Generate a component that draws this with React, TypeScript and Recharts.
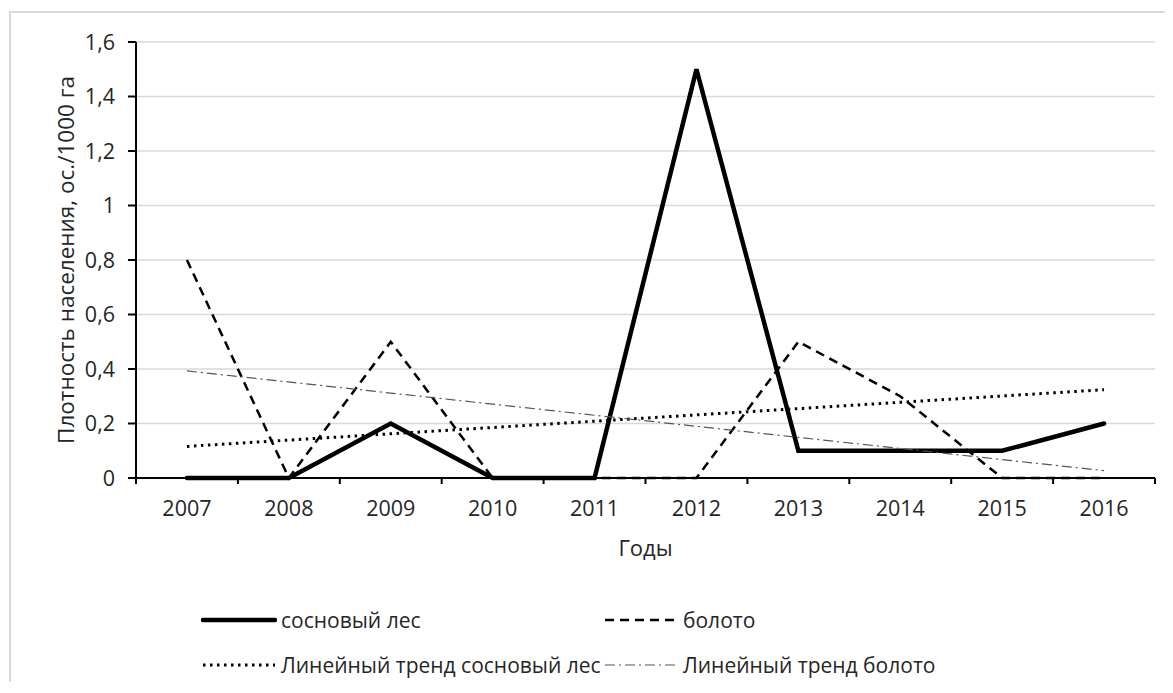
import React from 'react'
import { LineChart, Line, XAxis, YAxis, CartesianGrid, Label } from 'recharts'

const years = ['2007', '2008', '2009', '2010', '2011', '2012', '2013', '2014', '2015', '2016']
const pineForest = [0, 0, 0.2, 0, 0, 1.5, 0.1, 0.1, 0.1, 0.2]
const swamp = [0.8, 0, 0.5, 0, 0, 0, 0.5, 0.3, 0, 0]
// linear trend ends, read at 2007 and 2016
const pineTrend = [0.116, 0.324]
const swampTrend = [0.393, 0.027]
const yTicks = [0, 0.2, 0.4, 0.6, 0.8, 1, 1.2, 1.4, 1.6]

const data = years.map((year, i) => ({
  year,
  pine: pineForest[i],
  swamp: swamp[i],
  pineTrend: i === 0 ? pineTrend[0] : i === years.length - 1 ? pineTrend[1] : null,
  swampTrend: i === 0 ? swampTrend[0] : i === years.length - 1 ? swampTrend[1] : null,
}))

const FONT = '"Open Sans", sans-serif'
const TEXT = '#262626'
const CHART_W = 1160
const CHART_H = 560
const Y_AXIS_W = 125
const MARGIN = { top: 29, right: 16, left: 0, bottom: 0 }
const BAND = (CHART_W - Y_AXIS_W - MARGIN.left - MARGIN.right) / years.length

const STYLES = {
  pine: { stroke: '#000', strokeWidth: 4.5, dash: undefined as string | undefined },
  swamp: { stroke: '#000', strokeWidth: 2.5, dash: '9 6' },
  pineTrend: { stroke: '#000', strokeWidth: 3, dash: '2.5 4.5' },
  swampTrend: { stroke: '#555', strokeWidth: 1.2, dash: '10 4 2 4' },
}

function YearTick(props: any) {
  const { x, y, payload, index } = props
  const last = index === years.length - 1
  return (
    <g>
      <line x1={x - BAND / 2} x2={x - BAND / 2} y1={y} y2={y + 6} stroke="#000" strokeWidth={2} />
      {last && <line x1={x + BAND / 2} x2={x + BAND / 2} y1={y} y2={y + 6} stroke="#000" strokeWidth={2} />}
      <text x={x} y={y + 23} dy="0.71em" textAnchor="middle" fill={TEXT} fontSize={21.5} fontFamily={FONT}>
        {payload.value}
      </text>
    </g>
  )
}

function YTitle(props: any) {
  const { viewBox } = props
  const cx = viewBox.x + 54
  const cy = viewBox.y + viewBox.height / 2
  return (
    <text
      x={cx}
      y={cy}
      transform={`rotate(-90, ${cx}, ${cy})`}
      textAnchor="middle"
      dominantBaseline="central"
      fill={TEXT}
      fontSize={22.5}
      fontFamily={FONT}
    >
      Плотность населения, ос./1000 га
    </text>
  )
}

function LegendItem({ left, top, style, label }: any) {
  return (
    <div style={{ position: 'absolute', left, top, display: 'flex', alignItems: 'center' }}>
      <svg width={76} height={10} style={{ marginRight: 4 }}>
        <line
          x1={2}
          x2={74}
          y1={5}
          y2={5}
          stroke={style.stroke}
          strokeWidth={style.strokeWidth}
          strokeDasharray={style.dash}
          strokeLinecap={style.dash ? 'butt' : 'round'}
        />
      </svg>
      <span style={{ fontFamily: FONT, fontSize: 21, color: TEXT, lineHeight: '26px' }}>{label}</span>
    </div>
  )
}

export default function App() {
  return (
    <div
      style={{
        position: 'relative',
        top: 3,
        left: 1,
        width: CHART_W,
        height: 672,
        borderTop: '2px solid #d9d9d9',
        borderLeft: '2px solid #d9d9d9',
        background: '#fff',
      }}
    >
      <LineChart width={CHART_W} height={CHART_H} data={data} margin={MARGIN}>
        <CartesianGrid vertical={false} stroke="#d9d9d9" strokeWidth={1.5} />
        <XAxis
          dataKey="year"
          interval={0}
          padding={{ left: BAND / 2, right: BAND / 2 }}
          tickLine={false}
          tickSize={0}
          tickMargin={0}
          axisLine={{ stroke: '#000', strokeWidth: 2 }}
          height={95}
          tick={<YearTick />}
        >
          <Label value="Годы" position="insideBottom" offset={17} fill={TEXT} fontSize={22} fontFamily={FONT} />
        </XAxis>
        <YAxis
          width={Y_AXIS_W}
          domain={[0, 1.6]}
          ticks={yTicks}
          interval={0}
          tickSize={8}
          tickMargin={13}
          tickLine={{ stroke: '#000', strokeWidth: 2 }}
          axisLine={{ stroke: '#000', strokeWidth: 2 }}
          tickFormatter={(v: number) => String(v).replace('.', ',')}
          tick={{ fill: TEXT, fontSize: 21.5, fontFamily: FONT }}
        >
          <Label content={<YTitle />} />
        </YAxis>
        <Line
          dataKey="pine"
          stroke={STYLES.pine.stroke}
          strokeWidth={STYLES.pine.strokeWidth}
          strokeLinecap="round"
          dot={false}
          activeDot={false}
          isAnimationActive={false}
        />
        <Line
          dataKey="swamp"
          stroke={STYLES.swamp.stroke}
          strokeWidth={STYLES.swamp.strokeWidth}
          strokeDasharray={STYLES.swamp.dash}
          dot={false}
          activeDot={false}
          isAnimationActive={false}
        />
        <Line
          dataKey="pineTrend"
          stroke={STYLES.pineTrend.stroke}
          strokeWidth={STYLES.pineTrend.strokeWidth}
          strokeDasharray={STYLES.pineTrend.dash}
          connectNulls
          dot={false}
          activeDot={false}
          isAnimationActive={false}
        />
        <Line
          dataKey="swampTrend"
          stroke={STYLES.swampTrend.stroke}
          strokeWidth={STYLES.swampTrend.strokeWidth}
          strokeDasharray={STYLES.swampTrend.dash}
          connectNulls
          dot={false}
          activeDot={false}
          isAnimationActive={false}
        />
      </LineChart>
      <LegendItem left={190} top={594} style={STYLES.pine} label="сосновый лес" />
      <LegendItem left={592} top={594} style={STYLES.swamp} label="болото" />
      <LegendItem left={190} top={639} style={STYLES.pineTrend} label="Линейный тренд сосновый лес" />
      <LegendItem left={592} top={639} style={STYLES.swampTrend} label="Линейный тренд болото" />
    </div>
  )
}
